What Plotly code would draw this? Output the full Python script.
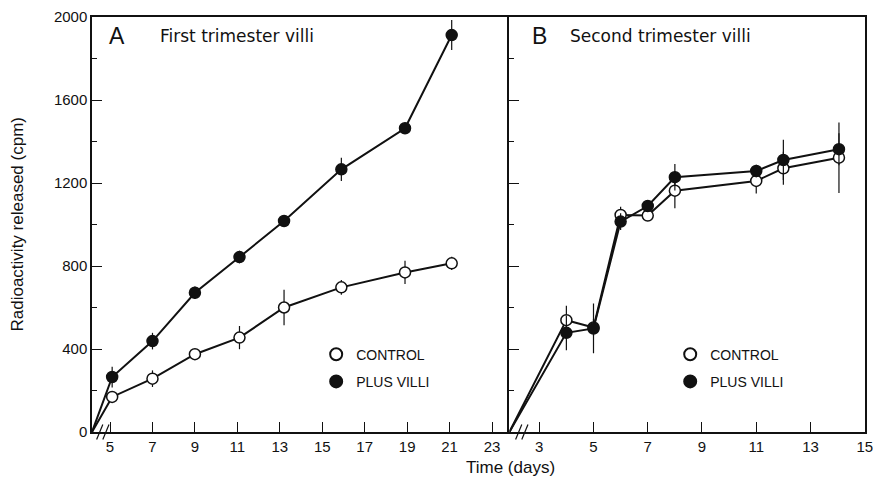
import plotly.graph_objects as go

# ---------------- data ----------------
# Panel A: first trimester villi (first point = broken-axis origin, time 0)
time_a = [4.15, 5.1, 7.0, 9.0, 11.1, 13.2, 15.9, 18.9, 21.1]
ctrl_a = [0, 169, 257, 375, 455, 600, 697, 769, 813]
ctrl_a_err = [0, 25, 40, 18, 56, 85, 35, 56, 32]
villi_a = [0, 265, 438, 671, 843, 1017, 1266, 1464, 1913]
villi_a_err = [0, 50, 40, 30, 30, 25, 56, 20, 72]

# Panel B: second trimester villi
time_b = [1.9, 4.0, 5.0, 6.0, 7.0, 8.0, 11.0, 12.0, 14.05]
ctrl_b = [0, 539, 504, 1046, 1043, 1163, 1210, 1271, 1322]
ctrl_b_err = [0, 70, 40, 40, 25, 85, 60, 80, 170]
villi_b = [0, 478, 499, 1014, 1089, 1228, 1258, 1311, 1363]
villi_b_err = [0, 84, 120, 40, 25, 64, 30, 97, 77]

ticks_a = [5, 7, 9, 11, 13, 15, 17, 19, 21, 23]
ticks_b = [3, 5, 7, 9, 11, 13, 15]
yticks = [0, 400, 800, 1200, 1600, 2000]

FONT = "Liberation Sans"
TFONT = "DejaVu Sans"
INK = "#111111"

fig = go.Figure()


def add_series(x, y, err, name, filled, xa, ya, legend):
    # no marker at the broken-axis origin point
    sizes = [0] + [11] * (len(x) - 1)
    fig.add_trace(go.Scatter(
        x=x, y=y, mode="lines+markers", xaxis=xa, yaxis=ya,
        line=dict(color=INK, width=2),
        marker=dict(size=sizes, opacity=1, color=INK if filled else "white",
                    line=dict(color=INK, width=1.5)),
        error_y=dict(type="data", array=err, color=INK, thickness=1.2, width=0),
        showlegend=False, hoverinfo="x+y", name=name,
    ))
    # legend-only marker entry
    fig.add_trace(go.Scatter(
        x=[None], y=[None], mode="markers", xaxis=xa, yaxis=ya,
        marker=dict(size=10, color=INK if filled else "white",
                    line=dict(color=INK, width=1.2)),
        name=name, legend=legend, legendgroup=name + legend, showlegend=True,
    ))


add_series(time_a, ctrl_a, ctrl_a_err, "CONTROL", False, "x", "y", "legend")
add_series(time_a, villi_a, villi_a_err, "PLUS VILLI", True, "x", "y", "legend")
add_series(time_b, ctrl_b, ctrl_b_err, "CONTROL", False, "x2", "y2", "legend2")
add_series(time_b, villi_b, villi_b_err, "PLUS VILLI", True, "x2", "y2", "legend2")

split = 0.540

axis_common = dict(showline=True, linecolor=INK, linewidth=1.5,
                   ticks="inside", tickcolor=INK, tickwidth=1.2, showgrid=False,
                   zeroline=False, automargin=False, ticklabeloverflow="allow",
                   tickfont=dict(family=FONT, size=15, color=INK))

fig.update_layout(
    template="none",
    width=873, height=483,
    margin=dict(l=92, r=8, t=17, b=51),
    paper_bgcolor="white", plot_bgcolor="white",
    font=dict(family=FONT, color=INK),
    xaxis=dict(domain=[0, split], range=[4.15, 23.82], tickvals=ticks_a,
               ticklen=10, mirror=True, **axis_common),
    xaxis2=dict(domain=[split, 1], range=[1.9, 15.01], tickvals=ticks_b,
                ticklen=10, anchor="y2", mirror=True, **axis_common),
    yaxis=dict(range=[0, 2000], tickvals=yticks, ticklen=10, mirror=False,
               minor=dict(dtick=200, ticklen=5, ticks="inside", tickcolor=INK),
               **axis_common),
    yaxis2=dict(range=[0, 2000], tickvals=yticks, ticklen=10, anchor="x2",
                showticklabels=False, mirror=True,
                minor=dict(dtick=200, ticklen=5, ticks="inside", tickcolor=INK),
                **axis_common),
    legend=dict(x=0.29, y=0.225, xanchor="left", yanchor="top",
                font=dict(family=FONT, size=14, color=INK),
                bgcolor="rgba(0,0,0,0)", tracegroupgap=6, itemsizing="constant"),
    legend2=dict(x=0.748, y=0.225, xanchor="left", yanchor="top",
                 font=dict(family=FONT, size=14, color=INK),
                 bgcolor="rgba(0,0,0,0)", tracegroupgap=6, itemsizing="constant"),
)

# y-axis title
fig.add_annotation(x=-0.097, y=0.5, xref="paper", yref="paper",
                   text="Radioactivity released (cpm)", textangle=-90,
                   showarrow=False, xanchor="center", yanchor="middle",
                   font=dict(family=FONT, size=17, color=INK))

# panel labels
fig.add_annotation(x=0.02, y=0.955, xref="paper", yref="paper", text="A",
                   showarrow=False, xanchor="left", yanchor="middle",
                   font=dict(family=FONT, size=23, color=INK))
fig.add_annotation(x=0.085, y=0.955, xref="paper", yref="paper",
                   text="First trimester villi", showarrow=False,
                   xanchor="left", yanchor="middle",
                   font=dict(family=TFONT, size=17, color=INK))
fig.add_annotation(x=split + 0.026, y=0.955, xref="paper", yref="paper", text="B",
                   showarrow=False, xanchor="left", yanchor="middle",
                   font=dict(family=FONT, size=23, color=INK))
fig.add_annotation(x=split + 0.076, y=0.955, xref="paper", yref="paper",
                   text="Second trimester villi", showarrow=False,
                   xanchor="left", yanchor="middle",
                   font=dict(family=TFONT, size=17, color=INK))

# x-axis title centred under the pair
fig.add_annotation(x=0.542, y=-0.085, xref="paper", yref="paper", text="Time (days)",
                   showarrow=False, xanchor="center", yanchor="middle",
                   font=dict(family=FONT, size=17, color=INK))

# axis-break marks "//"
for x0 in (0.006, 0.014, split + 0.008, split + 0.016):
    fig.add_shape(type="line", xref="paper", yref="paper",
                  x0=x0, y0=-0.018, x1=x0 + 0.008, y1=0.018,
                  line=dict(color=INK, width=1.2))

fig.write_html("out.html", config={"displayModeBar": False},
               post_script="document.body.style.margin='0px';")
